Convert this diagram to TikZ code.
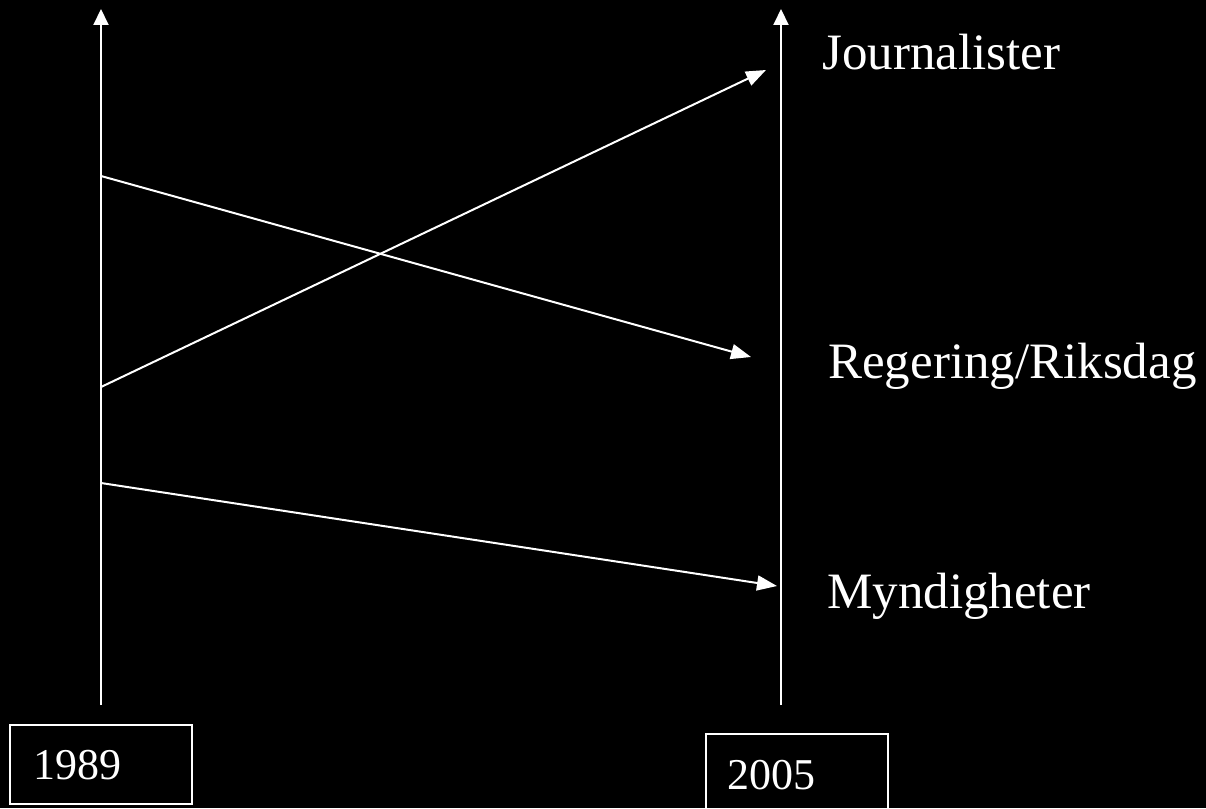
\documentclass[tikz,border=0pt]{standalone}
\usepackage{fontspec}
\setmainfont{Liberation Serif}
\usetikzlibrary{arrows.meta}
\tikzset{
  axis/.style={draw=white, line width=2pt, -{Triangle[width=15pt,length=16pt]}},
  link/.style={draw=white, line width=2pt, -{Triangle[width=15pt,length=20pt]}},
  yearbox/.style={draw=white, line width=2pt},
  label/.style={text=white, anchor=base west, inner sep=0pt, font=\fontsize{51}{60}\selectfont},
  year/.style={text=white, anchor=base west, inner sep=0pt, font=\fontsize{44}{52}\selectfont}
}
\begin{document}
\begin{tikzpicture}[x=1pt,y=-1pt]
\fill[black] (0,0) rectangle (1206,808);
\useasboundingbox (0,0) rectangle (1206,808);
\clip (0,0) rectangle (1206,808);
% axes
\coordinate (Lb) at (101,705);
\coordinate (Lt) at (101,9);
\coordinate (Rb) at (781,705);
\coordinate (Rt) at (781,9);
\draw[axis] (Lb) -- (Lt);
\draw[axis] (Rb) -- (Rt);
% start and end points
\coordinate (s1) at (101,176);
\coordinate (s2) at (101,387);
\coordinate (s3) at (101,483);
\coordinate (e1) at (751,357);
\coordinate (e2) at (766,70);
\coordinate (e3) at (777,586);
\draw[link] (s1) -- (e1);
\draw[link] (s2) -- (e2);
\draw[link] (s3) -- (e3);
% labels
\node[label] (journ) at (822,70) {Journalister};
\node[label] (reg) at (828,378) {Regering/Riksdag};
\node[label] (myn) at (827,608) {Myndigheter};
% year boxes
\draw[yearbox] (10,725) rectangle (192,804);
\node[year] (y1989) at (33,779) {1989};
\draw[yearbox] (706,734) rectangle (888,830);
\node[year] (y2005) at (727,789) {2005};
\end{tikzpicture}
\end{document}
